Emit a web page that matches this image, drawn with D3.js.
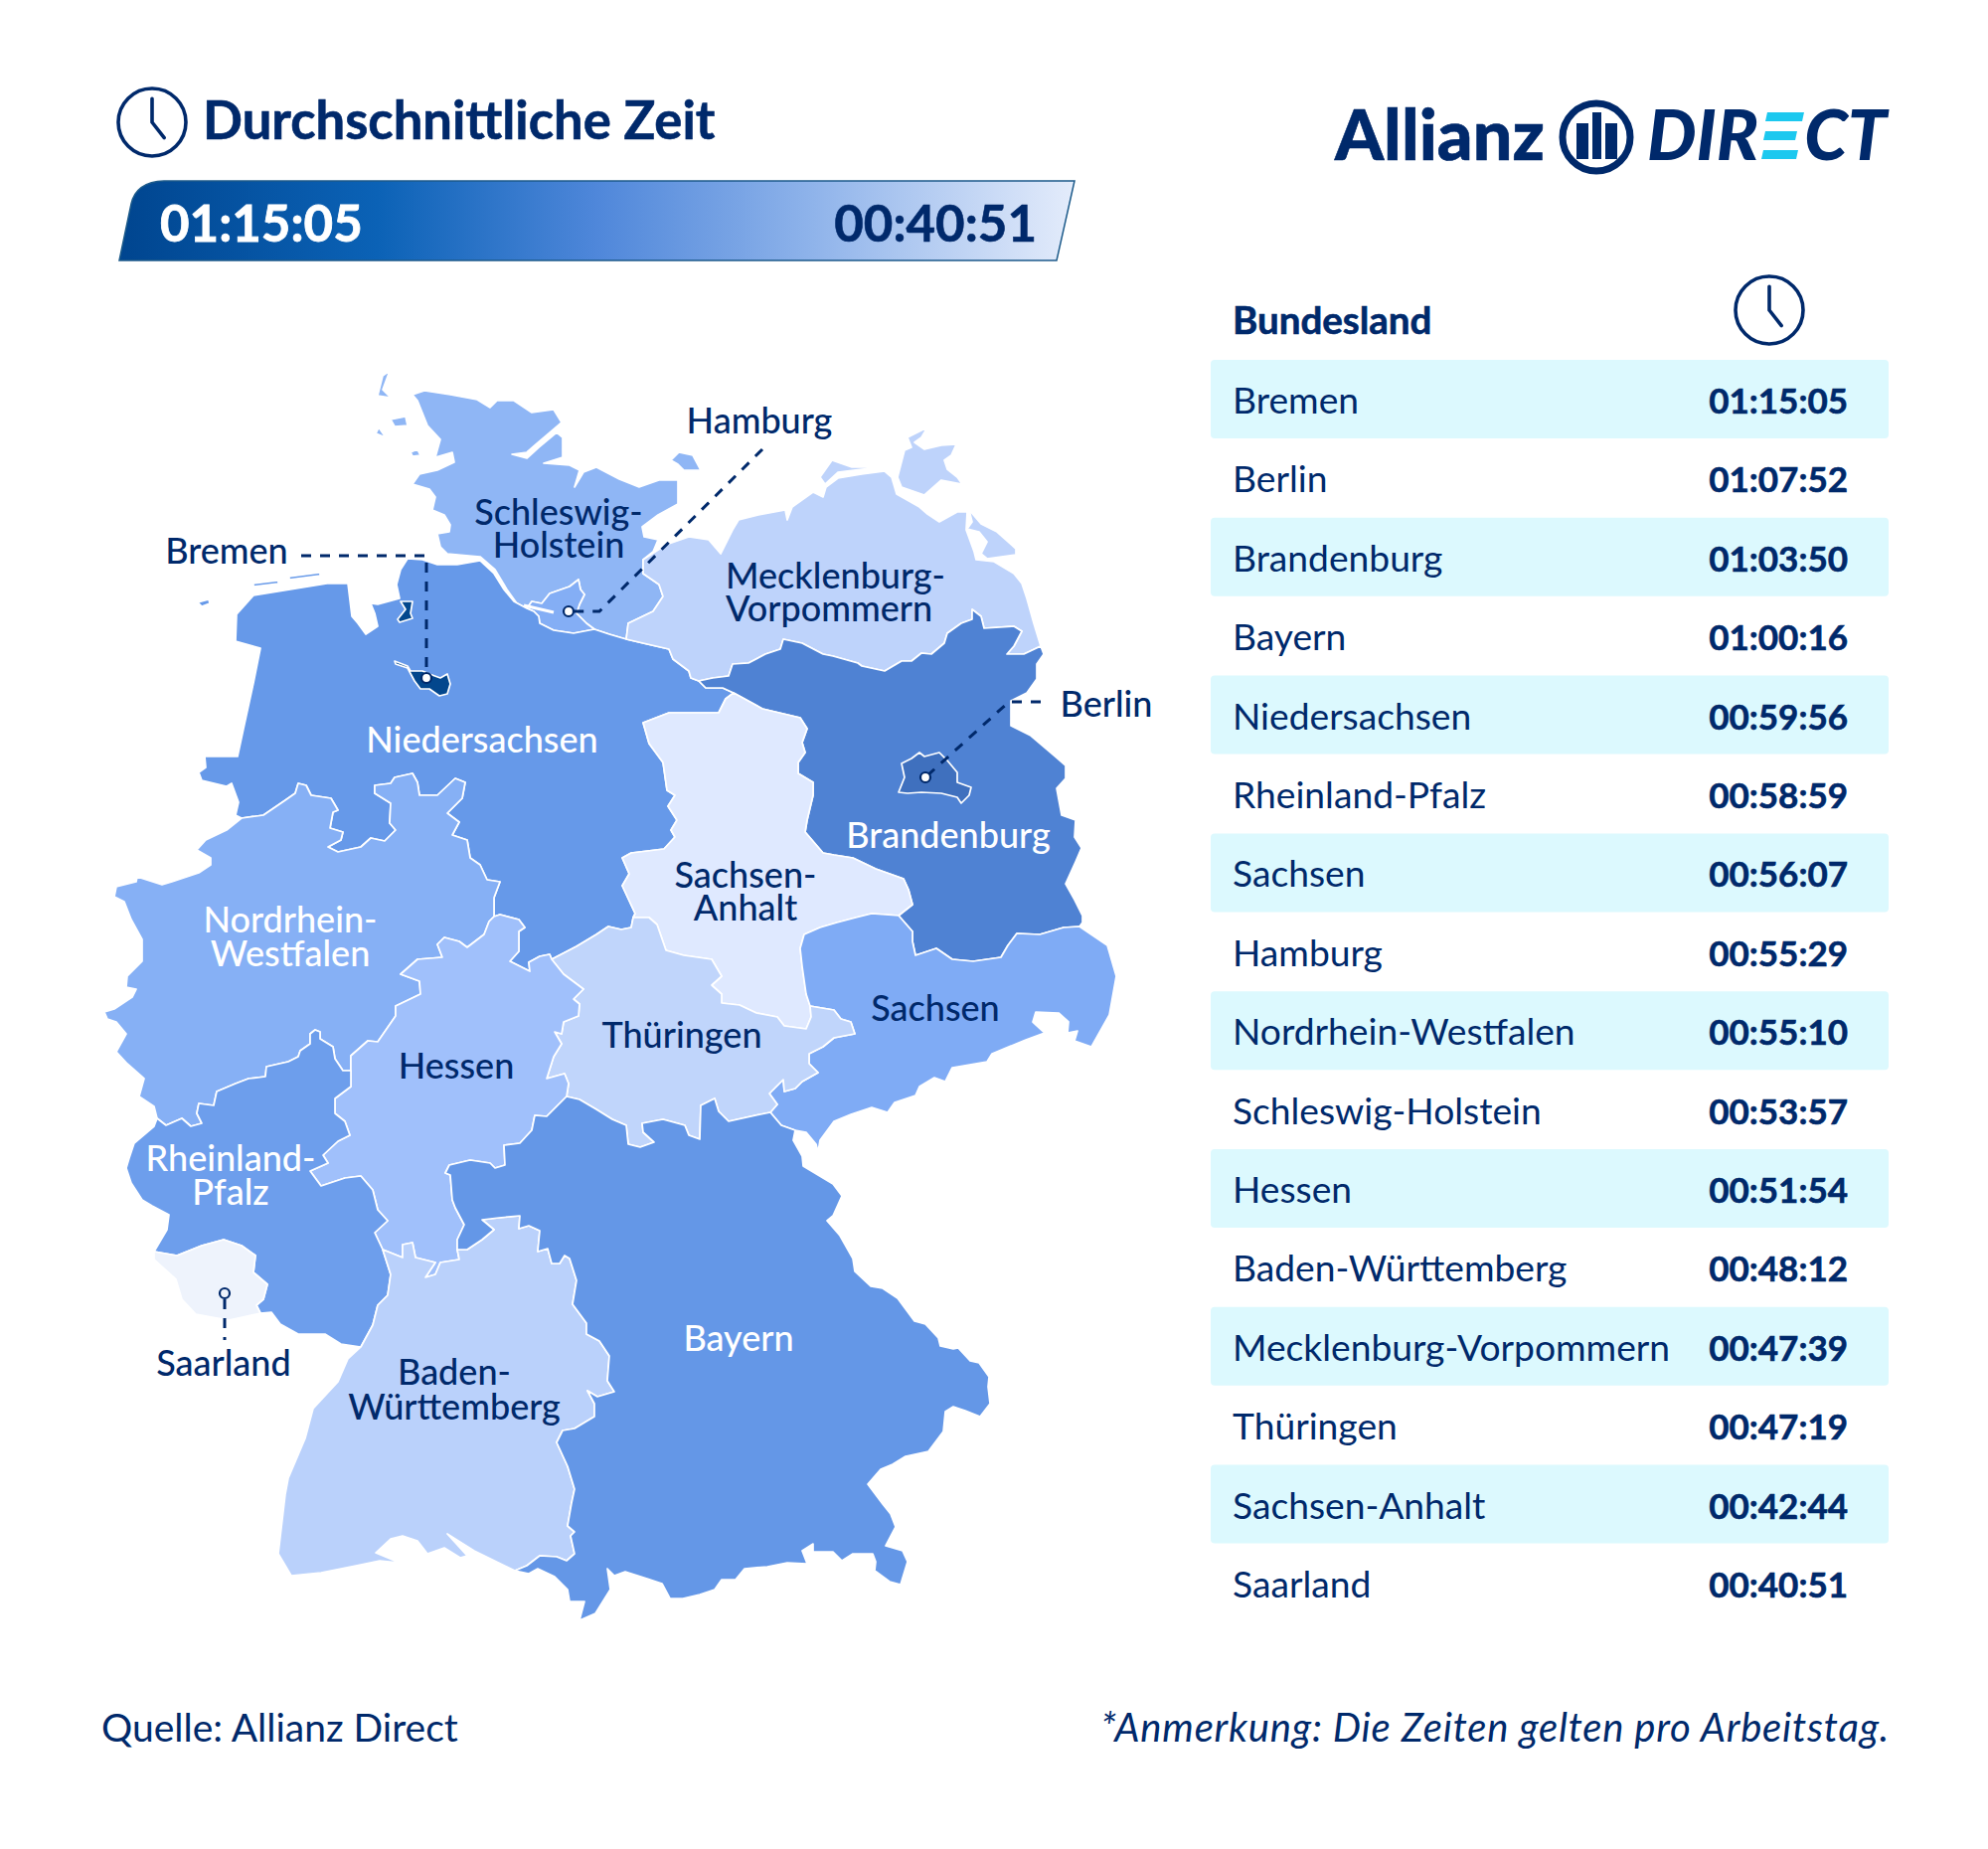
<!DOCTYPE html>
<html lang="de">
<head>
<meta charset="utf-8">
<title>Durchschnittliche Zeit</title>
<script src="https://cdn.jsdelivr.net/npm/d3@7"></script>
<style>
  html, body { margin: 0; background: #fff; }
  svg { display: block; }
  text { font-family: Lato, "Noto Sans", sans-serif; fill: #00296b; }
  .heavy { stroke: #00296b; stroke-width: 0.6; }
</style>
</head>
<body>
<svg id="chart" width="2000" height="1860"></svg>
<script>
const states = ['Bremen', 'Berlin', 'Brandenburg', 'Bayern', 'Niedersachsen', 'Rheinland-Pfalz', 'Sachsen', 'Hamburg', 'Nordrhein-Westfalen', 'Schleswig-Holstein', 'Hessen', 'Baden-Württemberg', 'Mecklenburg-Vorpommern', 'Thüringen', 'Sachsen-Anhalt', 'Saarland']
const times = ['01:15:05', '01:07:52', '01:03:50', '01:00:16', '00:59:56', '00:58:59', '00:56:07', '00:55:29', '00:55:10', '00:53:57', '00:51:54', '00:48:12', '00:47:39', '00:47:19', '00:42:44', '00:40:51']

// colour ramp, seconds -> fill
const rampTimes = ['00:40:51', '00:42:44', '00:47:30', '00:51:54', '00:53:57', '00:56:07', '01:00:00', '01:03:50', '01:07:52', '01:15:05']
const rampColors = ['#eef3fc', '#dfe9ff', '#bfd4fb', '#a0c0fb', '#8fb6f5', '#7fabf5', '#6699e9', '#4f82d3', '#3f70be', '#03478d']

// shared borders, in map units, so neighbours use the same line
const borders = {
  hh_sh: [[530, 612], [535, 605], [545, 607], [553, 597], [573, 590], [582, 583], [584, 593], [588, 598], [583, 608], [580, 617], [590, 627], [598, 633]],
  hh_ni: [[530, 612], [537, 615], [542, 620], [543, 627], [557, 634], [577, 637], [598, 633]],
  sh_ni: [[598, 633], [613, 638], [630, 643]],
  sh_mv: [[647, 563], [647, 577], [663, 588], [667, 600], [657, 615], [632, 627], [630, 643]],
  ni_mv: [[630, 643], [647, 647], [673, 653], [677, 663], [693, 675], [695, 682], [703, 685]],
  ni_bb: [[703, 685], [710, 692], [727, 692], [738, 697]],
  ni_st: [[738, 697], [730, 703], [723, 717], [673, 717], [647, 727], [653, 748], [667, 767], [671, 795], [679, 800], [672, 811], [681, 825], [675, 835], [679, 842], [668, 854], [635, 858], [626, 863], [633, 879], [626, 891], [639, 919], [637, 923]],
  mv_bb: [[703, 685], [717, 682], [733, 680], [737, 668], [753, 667], [770, 658], [785, 653], [788, 643], [807, 647], [828, 658], [838, 660], [863, 667], [867, 670], [890, 675], [907, 665], [917, 665], [927, 657], [937, 658], [950, 647], [953, 637], [967, 627], [978, 623], [978, 613], [987, 620], [990, 632], [1020, 630], [1028, 635], [1020, 650], [1013, 658], [1030, 658], [1047, 650]],
  bb_st: [[738, 697], [767, 713], [805, 722], [812, 733], [807, 747], [810, 757], [803, 767], [803, 778], [818, 787], [818, 800], [812, 825], [810, 837], [828, 858], [839, 860], [858, 863], [881, 874], [909, 884], [914, 895], [918, 910], [904, 921]],
  bb_sn: [[904, 921], [918, 937], [918, 947], [921, 961], [942, 954], [958, 965], [979, 967], [1007, 963], [1014, 951], [1023, 939], [1046, 940], [1070, 933], [1086, 932]],
  st_sn: [[904, 921], [877, 919], [861, 923], [842, 928], [825, 933], [809, 940], [805, 954], [807, 972], [811, 1000], [815, 1012]],
  st_th: [[637, 923], [653, 923], [661, 930], [670, 956], [688, 961], [716, 965], [726, 982], [716, 991], [726, 1000], [726, 1009], [744, 1011], [761, 1019], [782, 1023], [789, 1032], [811, 1035], [816, 1023], [815, 1012]],
  ni_th: [[555, 965], [580, 952], [600, 940], [612, 932], [625, 935], [635, 933], [637, 923]],
  ni_he: [[497, 922], [503, 920], [522, 925], [528, 933], [522, 937], [522, 957], [513, 967], [533, 977], [532, 968], [543, 962], [553, 960], [555, 965]],
  ni_nrw: [[243, 823], [265, 820], [287, 805], [297, 798], [300, 788], [308, 790], [313, 800], [333, 803], [340, 815], [335, 817], [332, 833], [345, 837], [343, 845], [330, 852], [340, 857], [363, 852], [373, 843], [387, 846], [398, 835], [392, 828], [393, 808], [377, 798], [377, 790], [393, 788], [397, 782], [415, 778], [420, 787], [422, 800], [440, 800], [458, 783], [468, 787], [465, 803], [450, 818], [462, 827], [455, 840], [470, 845], [473, 863], [483, 870], [490, 885], [503, 887], [497, 903], [497, 922]],
  nrw_he: [[497, 922], [492, 927], [487, 940], [470, 953], [462, 947], [447, 943], [440, 950], [445, 963], [420, 965], [403, 980], [422, 987], [423, 1000], [398, 1012], [398, 1022], [380, 1048], [370, 1047], [353, 1062], [353, 1077]],
  nrw_rp: [[353, 1077], [345, 1077], [337, 1065], [335, 1053], [322, 1045], [322, 1038], [317, 1036], [312, 1040], [312, 1050], [302, 1057], [300, 1063], [290, 1068], [268, 1073], [267, 1083], [250, 1085], [237, 1090], [218, 1098], [215, 1112], [200, 1110], [198, 1120], [203, 1130], [192, 1133], [183, 1125], [167, 1132], [158, 1125]],
  he_th: [[555, 965], [567, 980], [587, 995], [577, 1005], [583, 1010], [582, 1022], [567, 1028], [565, 1040], [558, 1038], [565, 1050], [557, 1063], [550, 1085], [568, 1080], [572, 1090], [570, 1103]],
  he_by: [[460, 1257], [460, 1247], [467, 1232], [458, 1215], [455, 1207], [453, 1182], [448, 1180], [452, 1172], [473, 1167], [493, 1170], [498, 1175], [508, 1172], [507, 1152], [523, 1150], [535, 1137], [538, 1122], [550, 1123], [570, 1103]],
  th_by: [[570, 1103], [583, 1106], [600, 1116], [616, 1126], [630, 1132], [632, 1151], [644, 1154], [658, 1149], [647, 1139], [646, 1130], [667, 1126], [689, 1132], [693, 1142], [704, 1146], [705, 1112], [719, 1105], [723, 1118], [733, 1128], [765, 1121], [775, 1119]],
  th_sn: [[815, 1012], [839, 1016], [846, 1025], [856, 1028], [860, 1040], [839, 1044], [828, 1053], [814, 1060], [814, 1070], [823, 1079], [807, 1088], [800, 1095], [789, 1098], [788, 1086], [774, 1100], [782, 1111], [775, 1119]],
  sn_by: [[775, 1119], [786, 1132], [800, 1137]],
  he_rp: [[353, 1077], [353, 1093], [337, 1105], [337, 1120], [347, 1128], [352, 1142], [340, 1148], [325, 1162], [330, 1170], [312, 1178], [323, 1193], [347, 1185], [363, 1183], [375, 1197], [380, 1217], [390, 1228], [377, 1240], [385, 1257]],
  he_bw: [[385, 1257], [405, 1265], [405, 1252], [415, 1250], [418, 1265], [438, 1270], [428, 1285], [438, 1282], [443, 1270], [462, 1267], [460, 1257]],
  rp_bw: [[385, 1257], [393, 1282], [390, 1303], [380, 1313], [375, 1333], [363, 1355]],
  bw_by: [[518, 1580], [530, 1575], [543, 1565], [560, 1566], [570, 1570], [578, 1563], [574, 1545], [578, 1541], [571, 1535], [575, 1512], [578, 1498], [571, 1475], [560, 1451], [566, 1439], [578, 1437], [598, 1425], [598, 1412], [591, 1399], [601, 1405], [618, 1400], [611, 1389], [613, 1364], [603, 1349], [590, 1342], [590, 1331], [576, 1312], [580, 1288], [573, 1266], [568, 1263], [563, 1271], [555, 1271], [551, 1256], [541, 1259], [543, 1238], [532, 1233], [522, 1236], [523, 1223], [502, 1225], [485, 1227], [497, 1237], [485, 1247], [470, 1257], [460, 1257]],
  rp_sl: [[155, 1259], [178, 1263], [203, 1253], [225, 1247], [243, 1253], [257, 1263], [255, 1280], [269, 1292], [265, 1307], [258, 1313], [262, 1321]],
  coast_sl: [[262, 1321], [230, 1328], [197, 1322], [183, 1307], [177, 1287], [155, 1267], [155, 1259]],
  coast_sh: [[530, 612], [520, 607], [510, 593], [498, 573], [483, 560], [450, 557], [443, 550], [440, 537], [452, 535], [453, 528], [447, 518], [435, 513], [438, 500], [432, 492], [415, 487], [422, 477], [440, 473], [457, 465], [455, 455], [438, 460], [443, 442], [430, 428], [420, 403], [415, 397], [427, 393], [453, 397], [480, 402], [493, 410], [500, 403], [517, 403], [535, 415], [557, 412], [565, 425], [558, 431], [538, 448], [530, 455], [515, 457], [530, 461], [542, 450], [560, 435], [566, 440], [566, 460], [547, 466], [573, 468], [583, 473], [578, 490], [587, 475], [600, 470], [623, 482], [643, 490], [663, 483], [682, 483], [682, 507], [662, 518], [646, 530], [648, 540], [662, 543], [657, 555], [647, 563]],
  coast_mv: [[1047, 650], [1040, 627], [1033, 602], [1028, 587], [1020, 577], [1000, 565], [982, 563], [980, 555], [972, 533], [973, 515], [963, 515], [945, 525], [933, 517], [925, 510], [902, 497], [897, 480], [890, 474], [867, 477], [843, 481], [831, 490], [828, 500], [818, 495], [797, 510], [792, 523], [790, 513], [763, 518], [743, 523], [737, 533], [725, 557], [713, 543], [693, 540], [670, 548], [647, 563]],
  coast_bb: [[1047, 650], [1050, 658], [1043, 668], [1043, 683], [1033, 697], [1017, 705], [1017, 730], [1037, 740], [1057, 757], [1072, 770], [1072, 783], [1063, 793], [1068, 820], [1082, 825], [1081, 842], [1088, 853], [1082, 867], [1072, 889], [1081, 905], [1089, 921], [1089, 928], [1086, 932]],
  coast_sn: [[800, 1137], [811, 1139], [821, 1151], [823, 1159], [825, 1147], [839, 1128], [856, 1121], [877, 1114], [893, 1119], [900, 1109], [921, 1102], [925, 1093], [940, 1084], [951, 1088], [958, 1074], [993, 1068], [998, 1060], [1032, 1046], [1051, 1039], [1039, 1028], [1042, 1018], [1065, 1019], [1075, 1028], [1074, 1039], [1084, 1037], [1081, 1047], [1098, 1053], [1116, 1021], [1123, 982], [1114, 951], [1086, 932]],
  coast_by: [[800, 1137], [798, 1147], [807, 1163], [808, 1173], [838, 1191], [847, 1203], [838, 1223], [832, 1228], [845, 1243], [858, 1266], [860, 1279], [876, 1294], [888, 1296], [903, 1306], [920, 1329], [931, 1332], [944, 1346], [946, 1354], [959, 1357], [964, 1356], [976, 1369], [985, 1371], [995, 1385], [994, 1395], [996, 1412], [986, 1425], [971, 1419], [959, 1415], [951, 1420], [949, 1440], [934, 1460], [911, 1465], [898, 1473], [886, 1478], [873, 1493], [888, 1513], [896, 1523], [901, 1536], [891, 1555], [908, 1560], [913, 1571], [906, 1594], [895, 1591], [880, 1580], [881, 1571], [878, 1563], [858, 1563], [847, 1570], [838, 1561], [818, 1561], [818, 1553], [807, 1560], [812, 1573], [792, 1572], [772, 1576], [749, 1578], [740, 1589], [726, 1589], [719, 1599], [704, 1604], [687, 1608], [674, 1608], [666, 1593], [651, 1588], [629, 1581], [618, 1585], [611, 1578], [614, 1599], [599, 1623], [583, 1630], [588, 1611], [573, 1611], [571, 1599], [558, 1586], [541, 1578], [532, 1583], [518, 1580]],
  coast_bw: [[363, 1355], [350, 1367], [340, 1390], [315, 1417], [307, 1447], [290, 1487], [287, 1503], [280, 1563], [293, 1585], [323, 1582], [358, 1575], [382, 1570], [402, 1572], [378, 1562], [393, 1548], [405, 1545], [420, 1550], [430, 1563], [447, 1557], [463, 1567], [470, 1565], [450, 1543], [477, 1560], [518, 1580]],
  coast_rp_s: [[262, 1321], [273, 1320], [282, 1332], [300, 1342], [327, 1342], [343, 1352], [363, 1355]],
  coast_rp_w: [[158, 1125], [155, 1133], [135, 1150], [130, 1165], [127, 1175], [132, 1190], [143, 1207], [153, 1213], [170, 1222], [168, 1237], [155, 1259]],
  coast_nrw: [[158, 1125], [155, 1113], [140, 1103], [145, 1085], [128, 1070], [117, 1058], [127, 1040], [117, 1028], [108, 1025], [105, 1018], [115, 1015], [133, 1003], [137, 995], [127, 993], [128, 982], [143, 967], [143, 945], [132, 925], [125, 907], [115, 902], [117, 892], [137, 887], [138, 882], [163, 890], [173, 887], [200, 878], [212, 870], [212, 863], [198, 855], [207, 845], [228, 835], [243, 823]],
  coast_ni: [[530, 612], [517, 605], [507, 593], [497, 577], [483, 564], [460, 568], [440, 568], [425, 563], [410, 562], [403, 573], [399, 588], [402, 602], [380, 608], [373, 607], [377, 617], [380, 630], [368, 638], [360, 627], [354, 620], [350, 587], [329, 587], [255, 599], [238, 618], [237, 645], [262, 652], [255, 687], [245, 733], [239, 761], [206, 761], [207, 772], [200, 777], [203, 785], [228, 791], [233, 788], [240, 807], [237, 820], [243, 823]]
}

// state -> ring of borders, a leading minus runs the border backwards
const rings = {
  'Schleswig-Holstein': ['coast_sh', 'sh_mv', '-sh_ni', '-hh_sh'],
  'Hamburg': ['hh_sh', '-hh_ni'],
  'Niedersachsen': ['coast_ni', 'ni_nrw', 'ni_he', 'ni_th', '-ni_st', '-ni_bb', '-ni_mv', '-sh_ni', '-hh_ni'],
  'Mecklenburg-Vorpommern': ['coast_mv', 'sh_mv', 'ni_mv', 'mv_bb'],
  'Brandenburg': ['mv_bb', 'coast_bb', '-bb_sn', '-bb_st', '-ni_bb'],
  'Sachsen-Anhalt': ['bb_st', 'st_sn', '-st_th', '-ni_st'],
  'Sachsen': ['bb_sn', '-coast_sn', '-sn_by', '-th_sn', '-st_sn'],
  'Thüringen': ['st_th', 'th_sn', '-th_by', '-he_th', 'ni_th'],
  'Nordrhein-Westfalen': ['ni_nrw', 'nrw_he', 'nrw_rp', 'coast_nrw'],
  'Hessen': ['ni_he', 'he_th', '-he_by', '-he_bw', '-he_rp', '-nrw_he'],
  'Rheinland-Pfalz': ['he_rp', 'rp_bw', '-coast_rp_s', '-rp_sl', '-coast_rp_w', '-nrw_rp'],
  'Saarland': ['rp_sl', 'coast_sl'],
  'Baden-Württemberg': ['he_bw', '-bw_by', '-coast_bw', '-rp_bw'],
  'Bayern': ['he_by', 'th_by', 'sn_by', 'coast_by', 'bw_by']
}

// pieces that are not part of a border ring
const islands = {
  'Schleswig-Holstein': [
    [[392, 373], [385, 378], [380, 398], [393, 400], [385, 392]],
    [[393, 422], [408, 419], [410, 428], [397, 429]],
    [[381, 430], [388, 440], [378, 436]],
    [[413, 455], [420, 452], [423, 458], [415, 459]],
    [[675, 463], [683, 455], [697, 458], [705, 473], [688, 473], [682, 467]]
  ],
  'Mecklenburg-Vorpommern': [
    [[975, 513], [987, 527], [1003, 535], [1022, 552], [1022, 558], [993, 562], [987, 557], [993, 545], [985, 535], [973, 532], [978, 525]],
    [[903, 480], [910, 453], [917, 450], [913, 440], [933, 430], [927, 440], [920, 445], [930, 452], [947, 448], [962, 447], [957, 458], [950, 463], [953, 472], [963, 480], [968, 487], [947, 483], [930, 498], [907, 490]],
    [[825, 480], [837, 463], [857, 470], [890, 470], [867, 472], [843, 475], [830, 487]]
  ],
  'Niedersachsen': [
    [[199, 606], [210, 603], [211, 607], [203, 610]],
    [[255, 587], [280, 584], [280, 587], [255, 590]],
    [[291, 580], [322, 576], [322, 579], [291, 583]]
  ]
}
const cities = {
  'Bremen': [
    [[397, 665], [410, 670], [413, 675], [425, 675], [432, 678], [443, 682], [450, 678], [453, 688], [450, 698], [442, 700], [432, 693], [423, 693], [417, 685], [410, 672], [398, 668]],
    [[400, 623], [408, 613], [403, 605], [415, 605], [413, 617], [415, 622], [402, 626]]
  ],
  'Berlin': [
    [[904, 797], [910, 782], [907, 768], [917, 763], [925, 757], [930, 761], [945, 757], [953, 765], [963, 777], [963, 787], [977, 792], [975, 800], [967, 808], [963, 802], [947, 798], [927, 797], [913, 798]]
  ]
}

const toSeconds = t => {
  const [h, m, s] = t.split(':').map(Number)
  return h * 3600 + m * 60 + s
}

const timeByState = new Map(states.map((s, i) => [s, times[i]]))
const color = d3.scaleLinear()
  .domain(rampTimes.map(toSeconds))
  .range(rampColors)
  .interpolate(d3.interpolateRgb)

const stitch = names => {
  const ring = []
  names.forEach(name => {
    const line = name[0] === '-' ? borders[name.slice(1)].slice().reverse() : borders[name]
    ring.push(...line)
  })
  return ring
}

const feature = (name, polys) => ({
  type: 'Feature',
  properties: { name },
  geometry: { type: 'MultiPolygon', coordinates: polys.map(p => [p.concat([p[0]])]) }
})

const landFeatures = Object.keys(rings).map(name => feature(name, [stitch(rings[name])].concat(islands[name] || [])))
const cityFeatures = Object.keys(cities).map(name => feature(name, cities[name]))

const svg = d3.select('#chart')
const defs = svg.append('defs')
const navy = '#00296b'

const projection = d3.geoIdentity()
const geoPath = d3.geoPath(projection)

// title and range bar
function drawClock (cx, cy, r) {
  const g = svg.append('g').attr('fill', 'none').attr('stroke', navy).attr('stroke-width', 3.6)
  g.append('circle').attr('cx', cx).attr('cy', cy).attr('r', r)
  g.append('path')
    .attr('stroke-linecap', 'round')
    .attr('d', d3.line()([[cx, cy - r * 0.7], [cx, cy], [cx + r * 0.36, cy + r * 0.46]]))
}

drawClock(153, 123, 34)
svg.append('text').attr('class', 'heavy').attr('x', 204).attr('y', 140)
  .attr('font-size', 52.6).attr('font-weight', 700).text('Durchschnittliche Zeit')

const barGradient = defs.append('linearGradient').attr('id', 'bar')
const barStops = [[0, '#00458f'], [0.27, '#0b62b6'], [0.5, '#4f87da'], [0.72, '#8db2ea'], [1, '#e4ecfb']]
barStops.forEach(([o, c]) => barGradient.append('stop').attr('offset', o).attr('stop-color', c))

svg.append('path')
  .attr('d', 'M120 262 L132 205 Q137 183 165 182 L1081 182 L1063 262 Z')
  .attr('fill', 'url(#bar)').attr('stroke', '#1c5a8a').attr('stroke-width', 1.5)
svg.append('text').attr('x', 161).attr('y', 243).attr('font-size', 51).attr('font-weight', 700)
  .style('fill', '#fff').style('stroke', '#fff').style('stroke-width', 0.8).text(times[0])
svg.append('text').attr('class', 'heavy').attr('x', 1043).attr('y', 243).attr('font-size', 51).attr('font-weight', 700)
  .attr('text-anchor', 'end').text(times[times.length - 1])

// logo
const logo = svg.append('g')
logo.append('text').attr('class', 'heavy').attr('x', 1343).attr('y', 161).attr('font-size', 70).attr('font-weight', 900).text('Allianz')
logo.append('circle').attr('cx', 1606).attr('cy', 138).attr('r', 34)
  .attr('fill', 'none').attr('stroke', navy).attr('stroke-width', 7)
const logoBars = [[1586, 124, 12], [1602, 113, 9], [1615, 124, 12]]
logo.selectAll('rect.bar').data(logoBars).join('rect')
  .attr('x', d => d[0]).attr('y', d => d[1]).attr('width', d => d[2]).attr('height', d => 160 - d[1])
  .attr('fill', navy)
logo.append('text').attr('x', 1657).attr('y', 161).attr('font-size', 70).attr('font-weight', 900)
  .attr('font-style', 'italic').text('DIR')
logo.append('text').attr('x', 1898).attr('y', 161).attr('font-size', 70).attr('font-weight', 900)
  .attr('font-style', 'italic').attr('text-anchor', 'end').text('CT')
const eBars = [[1776, 113, 37], [1774, 132, 32], [1772, 151, 35]]
logo.selectAll('path.e').data(eBars).join('path')
  .attr('d', d => `M${d[0] + 2} ${d[1]} h${d[2]} l-2 9 h-${d[2]} Z`)
  .attr('fill', '#1cc8ef')

// map
const map = svg.append('g')
map.selectAll('path.land').data(landFeatures).join('path')
  .attr('class', 'land')
  .attr('d', geoPath)
  .attr('fill', d => color(toSeconds(timeByState.get(d.properties.name))))
  .attr('stroke', '#fff').attr('stroke-width', 1.7).attr('stroke-linejoin', 'round')
map.selectAll('path.city').data(cityFeatures).join('path')
  .attr('class', 'city')
  .attr('d', geoPath)
  .attr('fill', d => color(toSeconds(timeByState.get(d.properties.name))))
  .attr('stroke', '#fff').attr('stroke-width', 1.7).attr('stroke-linejoin', 'round')
map.append('line').attr('x1', 527).attr('y1', 609).attr('x2', 557).attr('y2', 616)
  .attr('stroke', '#fff').attr('stroke-width', 3)

// leader lines and their dots
const leaders = [
  { pts: [[303, 559], [429, 559], [429, 680]], dot: [429, 682] },
  { pts: [[767, 452], [603, 615], [577, 615]], dot: [572, 615] },
  { pts: [[1047, 706], [1015, 706], [931, 782]], dot: [931, 782] },
  { pts: [[226, 1307], [226, 1348]], dot: [226, 1301], open: true }
]
const leaderG = svg.append('g')
leaderG.selectAll('path').data(leaders).join('path')
  .attr('d', d => d3.line()(d.pts))
  .attr('fill', 'none').attr('stroke', navy).attr('stroke-width', 3).attr('stroke-dasharray', '10 9')
leaderG.selectAll('circle').data(leaders).join('circle')
  .attr('cx', d => d.dot[0]).attr('cy', d => d.dot[1]).attr('r', 5)
  .attr('fill', d => d.open ? '#eef3fc' : '#fff').attr('stroke', navy).attr('stroke-width', 2.2)

// labels on the map
const mapLabels = [
  { lines: ['Hamburg'], x: 764, y: [436] },
  { lines: ['Schleswig-', 'Holstein'], x: 562, y: [528, 561] },
  { lines: ['Bremen'], x: 228, y: [567] },
  { lines: ['Mecklenburg-', 'Vorpommern'], x: 730, y: [592, 625], anchor: 'start' },
  { lines: ['Niedersachsen'], x: 485, y: [757], light: true },
  { lines: ['Berlin'], x: 1113, y: [721] },
  { lines: ['Brandenburg'], x: 954, y: [853], light: true },
  { lines: ['Nordrhein-', 'Westfalen'], x: 292, y: [938, 972], light: true },
  { lines: ['Sachsen-', 'Anhalt'], x: 750, y: [893, 926] },
  { lines: ['Thüringen'], x: 686, y: [1054] },
  { lines: ['Sachsen'], x: 941, y: [1027] },
  { lines: ['Hessen'], x: 459, y: [1085] },
  { lines: ['Rheinland-', 'Pfalz'], x: 232, y: [1178, 1212], light: true },
  { lines: ['Saarland'], x: 225, y: [1384] },
  { lines: ['Baden-', 'Württemberg'], x: 457, y: [1393, 1428] },
  { lines: ['Bayern'], x: 743, y: [1359], light: true }
]
mapLabels.forEach(label => {
  label.lines.forEach((line, i) => {
    svg.append('text')
      .attr('x', label.x).attr('y', label.y[i])
      .attr('text-anchor', label.anchor || 'middle')
      .attr('font-size', 36).attr('font-weight', 500)
      .style('fill', label.light ? '#fff' : navy)
      .text(line)
  })
})

// table
const rowScale = d3.scaleBand().domain(states).range([362, 362 + 79.4 * states.length])
const table = svg.append('g')
table.append('text').attr('class', 'heavy').attr('x', 1240).attr('y', 336).attr('font-size', 38.5).attr('font-weight', 700).text('Bundesland')
drawClock(1780, 312, 34)
const rows = table.selectAll('g.row').data(states).join('g').attr('class', 'row')
  .attr('transform', d => `translate(0,${rowScale(d)})`)
rows.filter((d, i) => i % 2 === 0).append('rect')
  .attr('x', 1218).attr('width', 682).attr('height', 79).attr('rx', 4).attr('fill', '#dcf9fe')
rows.append('text').attr('x', 1240).attr('y', 54).attr('font-size', 37.2).text(d => d)
rows.append('text').attr('class', 'heavy').attr('x', 1859).attr('y', 54).attr('font-size', 35).attr('font-weight', 700)
  .attr('text-anchor', 'end').text(d => timeByState.get(d))

// footer
svg.append('text').attr('x', 102).attr('y', 1752).attr('font-size', 39).text('Quelle: Allianz Direct')
svg.append('text').attr('x', 1901).attr('y', 1752).attr('font-size', 40).attr('font-style', 'italic')
  .attr('letter-spacing', 0.8).attr('text-anchor', 'end').text('*Anmerkung: Die Zeiten gelten pro Arbeitstag.')
</script>
</body>
</html>
